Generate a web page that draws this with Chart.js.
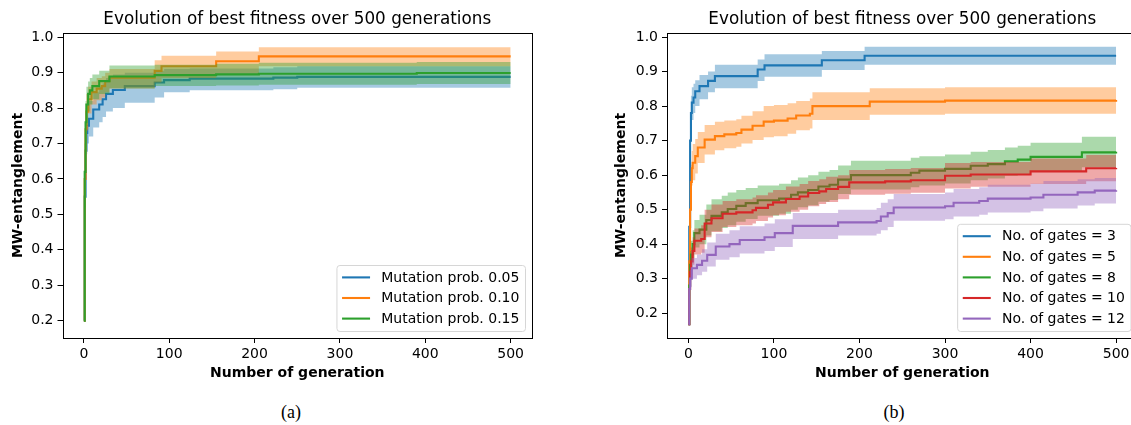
<!DOCTYPE html>
<html>
<head>
<meta charset="utf-8">
<script src="https://cdn.jsdelivr.net/npm/chart.js@4.4.0/dist/chart.umd.min.js"></script>
<style>
  html, body { margin: 0; padding: 0; background: #fff; overflow: hidden; width: 1131px; height: 425px; }
  .box { position: absolute; top: 0; width: 560px; height: 390px; }
  .cap { position: absolute; top: 402px; width: 100px; text-align: center; line-height: 20px;
         font: 18px "Liberation Serif", "Times New Roman", serif; color: #000; }
</style>
</head>
<body>
<div class="box" style="left:0"><canvas id="chartA" width="560" height="390"></canvas></div>
<div class="box" style="left:600px"><canvas id="chartB" width="560" height="390"></canvas></div>
<div class="cap" style="left:241px">(a)</div>
<div class="cap" style="left:844px">(b)</div>
<script>
// ---- data: (a) mutation probability ----
var genA05  = [0, 1, 2, 3, 4, 6, 11, 18, 22, 26, 34, 48, 83, 94, 124, 222, 250, 500];
var meanA05 = [0.2, 0.55, 0.68, 0.73, 0.75, 0.77, 0.796, 0.81, 0.825, 0.84, 0.851, 0.862, 0.872, 0.879, 0.883, 0.886, 0.888, 0.888];
var loA05   = [0.2, 0.45, 0.6, 0.67, 0.7, 0.72, 0.745, 0.76, 0.775, 0.79, 0.8, 0.815, 0.83, 0.845, 0.85, 0.853, 0.857, 0.857];
var hiA05   = [0.2, 0.62, 0.74, 0.78, 0.8, 0.82, 0.845, 0.86, 0.87, 0.885, 0.895, 0.9, 0.905, 0.91, 0.912, 0.915, 0.918, 0.918];

var genA10  = [0, 1, 2, 3, 5, 9, 15, 21, 25, 30, 83, 91, 155, 205, 500];
var meanA10 = [0.2, 0.6, 0.74, 0.79, 0.825, 0.845, 0.855, 0.862, 0.876, 0.886, 0.905, 0.918, 0.932, 0.946, 0.946];
var loA10   = [0.2, 0.5, 0.68, 0.74, 0.785, 0.81, 0.822, 0.83, 0.845, 0.855, 0.872, 0.885, 0.897, 0.918, 0.918];
var hiA10   = [0.2, 0.68, 0.8, 0.84, 0.86, 0.875, 0.885, 0.89, 0.9, 0.91, 0.935, 0.948, 0.96, 0.972, 0.972];

var genA15  = [0, 1, 2, 3, 5, 7, 10, 18, 30, 83, 155, 205, 390, 500];
var meanA15 = [0.2, 0.62, 0.76, 0.81, 0.84, 0.85, 0.862, 0.876, 0.889, 0.893, 0.895, 0.897, 0.899, 0.899];
var loA15   = [0.2, 0.52, 0.69, 0.75, 0.79, 0.81, 0.825, 0.84, 0.855, 0.862, 0.864, 0.866, 0.868, 0.868];
var hiA15   = [0.2, 0.7, 0.82, 0.86, 0.875, 0.885, 0.895, 0.905, 0.92, 0.922, 0.925, 0.928, 0.93, 0.93];

// ---- data: (b) number of gates ----
var genB3  = [0, 1, 2, 3, 4, 6, 8, 13, 23, 31, 81, 89, 156, 206, 500];
var meanB3 = [0.168, 0.45, 0.7, 0.78, 0.81, 0.825, 0.843, 0.858, 0.873, 0.887, 0.906, 0.918, 0.933, 0.946, 0.946];
var loB3   = [0.168, 0.38, 0.64, 0.72, 0.76, 0.78, 0.8, 0.82, 0.84, 0.852, 0.873, 0.885, 0.905, 0.92, 0.92];
var hiB3   = [0.168, 0.52, 0.76, 0.83, 0.855, 0.865, 0.875, 0.89, 0.9, 0.92, 0.935, 0.95, 0.96, 0.972, 0.972];

var genB5  = [0, 1, 2, 3, 4, 5, 8, 11, 19, 31, 42, 56, 62, 75, 88, 100, 116, 126, 142, 145, 212, 300, 500];
var meanB5 = [0.168, 0.35, 0.5, 0.58, 0.62, 0.636, 0.655, 0.68, 0.703, 0.713, 0.718, 0.722, 0.732, 0.743, 0.755, 0.758, 0.764, 0.773, 0.778, 0.8, 0.813, 0.816, 0.818];
var loB5   = [0.168, 0.3, 0.44, 0.53, 0.57, 0.585, 0.605, 0.635, 0.66, 0.672, 0.678, 0.682, 0.692, 0.702, 0.71, 0.713, 0.72, 0.73, 0.735, 0.76, 0.775, 0.778, 0.78];
var hiB5   = [0.168, 0.4, 0.56, 0.63, 0.67, 0.69, 0.705, 0.725, 0.745, 0.755, 0.758, 0.762, 0.772, 0.785, 0.8, 0.803, 0.808, 0.815, 0.822, 0.84, 0.852, 0.855, 0.857];

var genB8  = [0, 1, 2, 3, 5, 7, 13, 21, 27, 39, 46, 56, 67, 81, 106, 120, 128, 140, 152, 165, 175, 190, 260, 270, 300, 330, 350, 370, 385, 400, 460, 500];
var meanB8 = [0.168, 0.28, 0.34, 0.37, 0.4, 0.432, 0.442, 0.47, 0.482, 0.492, 0.502, 0.511, 0.519, 0.527, 0.532, 0.543, 0.55, 0.557, 0.567, 0.572, 0.587, 0.6, 0.607, 0.613, 0.618, 0.627, 0.632, 0.64, 0.645, 0.653, 0.666, 0.668];
var loB8   = [0.168, 0.25, 0.3, 0.33, 0.36, 0.39, 0.4, 0.425, 0.437, 0.447, 0.455, 0.465, 0.473, 0.482, 0.488, 0.5, 0.507, 0.513, 0.523, 0.528, 0.545, 0.558, 0.565, 0.57, 0.576, 0.585, 0.59, 0.598, 0.603, 0.612, 0.623, 0.625];
var hiB8   = [0.168, 0.31, 0.38, 0.41, 0.44, 0.47, 0.485, 0.515, 0.53, 0.54, 0.55, 0.557, 0.563, 0.57, 0.575, 0.585, 0.593, 0.6, 0.61, 0.615, 0.628, 0.642, 0.65, 0.655, 0.66, 0.668, 0.673, 0.68, 0.685, 0.694, 0.711, 0.711];

var genB10  = [0, 1, 2, 3, 5, 7, 15, 19, 27, 40, 56, 75, 79, 93, 99, 114, 130, 140, 153, 161, 175, 188, 230, 260, 300, 330, 400, 465, 500];
var meanB10 = [0.168, 0.27, 0.32, 0.35, 0.38, 0.41, 0.415, 0.46, 0.475, 0.488, 0.492, 0.498, 0.505, 0.514, 0.521, 0.531, 0.538, 0.548, 0.553, 0.56, 0.566, 0.579, 0.582, 0.585, 0.598, 0.602, 0.611, 0.62, 0.621];
var loB10   = [0.168, 0.24, 0.28, 0.31, 0.34, 0.37, 0.375, 0.42, 0.435, 0.45, 0.455, 0.46, 0.467, 0.477, 0.484, 0.494, 0.5, 0.51, 0.516, 0.522, 0.53, 0.543, 0.546, 0.549, 0.561, 0.566, 0.574, 0.582, 0.582];
var hiB10   = [0.168, 0.3, 0.36, 0.39, 0.42, 0.445, 0.455, 0.5, 0.515, 0.525, 0.53, 0.535, 0.542, 0.55, 0.557, 0.567, 0.574, 0.583, 0.588, 0.595, 0.6, 0.615, 0.618, 0.621, 0.635, 0.638, 0.648, 0.658, 0.66];

var genB12  = [0, 1, 2, 4, 10, 16, 22, 32, 48, 60, 89, 101, 122, 175, 220, 225, 233, 240, 300, 310, 340, 350, 400, 415, 455, 475, 500];
var meanB12 = [0.168, 0.27, 0.3, 0.33, 0.34, 0.352, 0.369, 0.393, 0.4, 0.412, 0.42, 0.432, 0.453, 0.463, 0.467, 0.48, 0.49, 0.506, 0.51, 0.52, 0.525, 0.532, 0.535, 0.543, 0.55, 0.555, 0.556];
var loB12   = [0.168, 0.25, 0.275, 0.3, 0.31, 0.32, 0.335, 0.355, 0.362, 0.373, 0.38, 0.392, 0.415, 0.425, 0.43, 0.44, 0.45, 0.468, 0.472, 0.48, 0.485, 0.492, 0.495, 0.503, 0.512, 0.518, 0.52];
var hiB12   = [0.168, 0.29, 0.325, 0.36, 0.37, 0.385, 0.405, 0.43, 0.44, 0.452, 0.46, 0.472, 0.49, 0.5, 0.505, 0.52, 0.53, 0.545, 0.55, 0.56, 0.565, 0.572, 0.575, 0.583, 0.588, 0.592, 0.593];

var xTicks = [0, 100, 200, 300, 400, 500];
var yTicks = [0.2, 0.3, 0.4, 0.5, 0.6, 0.7, 0.8, 0.9, 1.0];

// matplotlib tab10
var BLUE = '31,119,180', ORANGE = '255,127,14', GREEN = '44,160,44', RED = '214,39,40', PURPLE = '148,103,189';

var FONT = '"DejaVu Sans", sans-serif';

function series(label, color, gens, mean, lo, hi, k) {
    var pts = function (arr) { return gens.map(function (g, i) { return {x: g, y: arr[i]}; }); };
    return [
        {label: label + ' hi', data: pts(hi), borderColor: 'rgba(0,0,0,0)', borderWidth: 0,
         backgroundColor: 'rgba(' + color + ',0.4)', fill: '+1', stepped: true, pointRadius: 0, order: 100 - 2 * k - 1},
        {label: label + ' lo', data: pts(lo), borderColor: 'rgba(0,0,0,0)', borderWidth: 0,
         fill: false, stepped: true, pointRadius: 0, order: 100 - 2 * k - 1},
        {label: label, data: pts(mean), borderColor: 'rgb(' + color + ')', borderWidth: 2.1,
         fill: false, stepped: true, pointRadius: 0, order: 100 - 2 * k, isMean: true}
    ];
}

// box around the plot (matplotlib spines)
var frame = {
    id: 'frame',
    afterDatasetsDraw: function (chart) {
        var a = chart.chartArea, ctx = chart.ctx;
        ctx.save();
        ctx.strokeStyle = '#000';
        ctx.lineWidth = 1;
        ctx.strokeRect(Math.round(a.left) + 0.5, Math.round(a.top) + 0.5,
                       Math.round(a.right) - Math.round(a.left), Math.round(a.bottom) - Math.round(a.top));
        ctx.restore();
    }
};

// matplotlib style legend, lower right
var legendBox = {
    id: 'legendBox',
    afterDraw: function (chart) {
        var a = chart.chartArea, ctx = chart.ctx;
        var items = chart.data.datasets.filter(function (d) { return d.isMean; });
        ctx.save();
        ctx.font = '14px ' + FONT;
        var tw = 0;
        items.forEach(function (d) { tw = Math.max(tw, ctx.measureText(d.label).width); });
        var pad = 5.6, handle = 28, gap = 11.2, th = 13.6, sp = 7;
        var w = pad + handle + gap + tw + pad;
        var h = items.length * th + (items.length - 1) * sp + 2 * pad;
        var x = a.right - 7 - w, y = a.bottom - 7 - h;
        ctx.beginPath();
        ctx.roundRect(x + 0.5, y + 0.5, w, h, 3);
        ctx.fillStyle = 'rgba(255,255,255,0.8)';
        ctx.fill();
        ctx.strokeStyle = '#d6d6d6';
        ctx.lineWidth = 1;
        ctx.stroke();
        items.forEach(function (d, i) {
            var cy = y + pad + th / 2 + i * (th + sp);
            ctx.beginPath();
            ctx.moveTo(x + pad, cy);
            ctx.lineTo(x + pad + handle, cy);
            ctx.strokeStyle = d.borderColor;
            ctx.lineWidth = 2.1;
            ctx.stroke();
            ctx.fillStyle = '#000';
            ctx.textBaseline = 'middle';
            ctx.fillText(d.label, x + pad + handle + gap, cy + 0.5);
        });
        ctx.restore();
    }
};

function makeChart(id, datasets, yMin, yMax, yWidth, yTitlePad, padRight) {
    return new Chart(document.getElementById(id), {
        type: 'line',
        data: {datasets: datasets},
        plugins: [frame, legendBox],
        options: {
            responsive: false,
            animation: false,
            layout: {padding: {left: 0, right: padRight, top: 0, bottom: 0}},
            plugins: {
                legend: {display: false},
                tooltip: {enabled: false},
                title: {
                    display: true, fullSize: false,
                    text: 'Evolution of best fitness over 500 generations',
                    color: '#000', font: {family: FONT, size: 16.8, weight: 'normal'},
                    padding: {top: 9.7, bottom: 3.1}
                }
            },
            scales: {
                x: {
                    type: 'linear', min: -25, max: 525,
                    afterBuildTicks: function (s) { s.ticks = xTicks.map(function (v) { return {value: v}; }); },
                    afterFit: function (s) { s.height = 52; },
                    border: {display: false},
                    grid: {drawOnChartArea: false, drawTicks: true, tickLength: 5, color: '#000'},
                    ticks: {color: '#000', font: {family: FONT, size: 14}, padding: 3, maxRotation: 0,
                            callback: function (v) { return String(v); }},
                    title: {display: true, text: 'Number of generation', color: '#000',
                            font: {family: FONT, size: 14, weight: 'bold'}, padding: {top: 0, bottom: 8.6}}
                },
                y: {
                    type: 'linear', min: yMin, max: yMax,
                    afterBuildTicks: function (s) { s.ticks = yTicks.map(function (v) { return {value: v}; }); },
                    afterFit: function (s) { s.width = yWidth; },
                    border: {display: false},
                    grid: {drawOnChartArea: false, drawTicks: true, tickLength: 5, color: '#000'},
                    ticks: {color: '#000', font: {family: FONT, size: 14}, padding: 4,
                            callback: function (v) { return v.toFixed(1); }},
                    title: {display: true, text: 'MW-entanglement', color: '#000',
                            font: {family: FONT, size: 14, weight: 'bold'}, padding: {top: yTitlePad, bottom: 0}}
                }
            }
        }
    });
}

var dsA = [].concat(
    series('Mutation prob. 0.05', BLUE, genA05, meanA05, loA05, hiA05, 0),
    series('Mutation prob. 0.10', ORANGE, genA10, meanA10, loA10, hiA10, 1),
    series('Mutation prob. 0.15', GREEN, genA15, meanA15, loA15, hiA15, 2)
);
var dsB = [].concat(
    series('No. of gates = 3', BLUE, genB3, meanB3, loB3, hiB3, 0),
    series('No. of gates = 5', ORANGE, genB5, meanB5, loB5, hiB5, 1),
    series('No. of gates = 8', GREEN, genB8, meanB8, loB8, hiB8, 2),
    series('No. of gates = 10', RED, genB10, meanB10, loB10, hiB10, 3),
    series('No. of gates = 12', PURPLE, genB12, meanB12, loB12, hiB12, 4)
);

makeChart('chartA', dsA, 0.151, 1.012, 62.5, 9.6, 28);
makeChart('chartB', dsB, 0.128, 1.012, 67, 12.6, 22.5);
</script>
</body>
</html>
